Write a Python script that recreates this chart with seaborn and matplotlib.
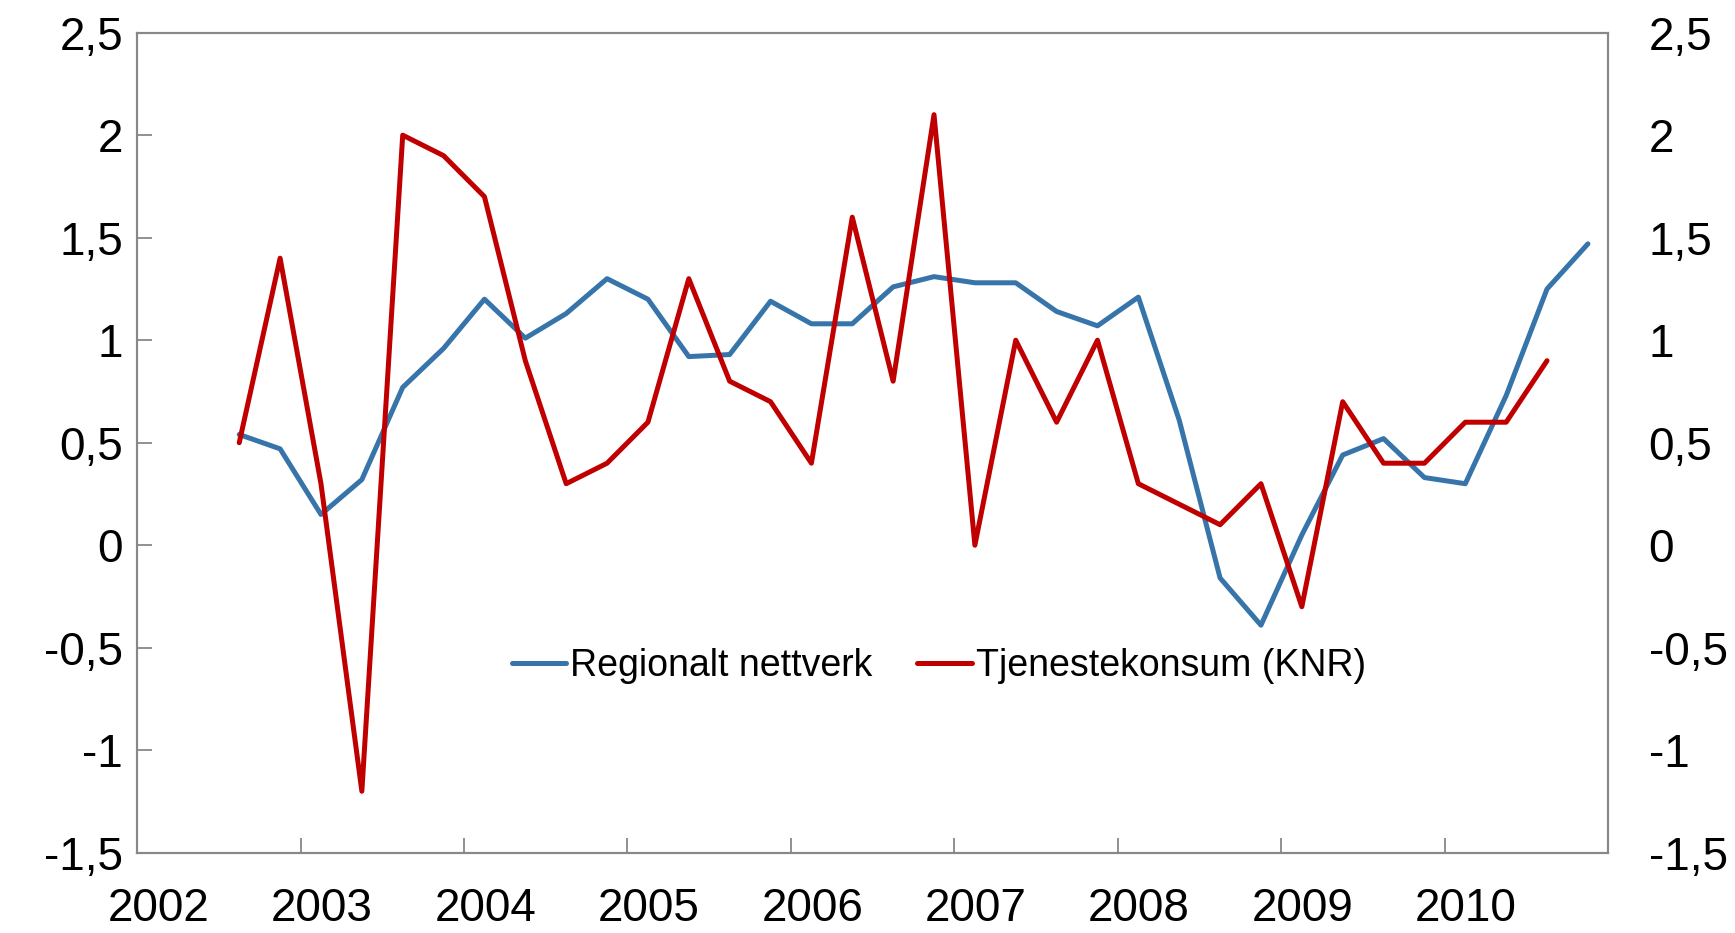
import matplotlib
matplotlib.use('Agg')
import matplotlib.pyplot as plt
import seaborn as sns
import pandas as pd

quarters = ['2002Q3', '2002Q4',
            '2003Q1', '2003Q2', '2003Q3', '2003Q4',
            '2004Q1', '2004Q2', '2004Q3', '2004Q4',
            '2005Q1', '2005Q2', '2005Q3', '2005Q4',
            '2006Q1', '2006Q2', '2006Q3', '2006Q4',
            '2007Q1', '2007Q2', '2007Q3', '2007Q4',
            '2008Q1', '2008Q2', '2008Q3', '2008Q4',
            '2009Q1', '2009Q2', '2009Q3', '2009Q4',
            '2010Q1', '2010Q2', '2010Q3', '2010Q4']

regionalt = [0.54, 0.47, 0.15, 0.32, 0.77, 0.96, 1.20, 1.01, 1.13, 1.30,
             1.20, 0.92, 0.93, 1.19, 1.08, 1.08, 1.26, 1.31, 1.28, 1.28,
             1.14, 1.07, 1.21, 0.61, -0.16, -0.39, 0.05, 0.44, 0.52, 0.33,
             0.30, 0.73, 1.25, 1.47]

tjeneste = [0.5, 1.4, 0.3, -1.2, 2.0, 1.9, 1.7, 0.9, 0.3, 0.4,
            0.6, 1.3, 0.8, 0.7, 0.4, 1.6, 0.8, 2.1, 0.0, 1.0,
            0.6, 1.0, 0.3, 0.2, 0.1, 0.3, -0.3, 0.7, 0.4, 0.4,
            0.6, 0.6, 0.9]

years = list(range(2002, 2011))
yticks = [-1.5, -1, -0.5, 0, 0.5, 1, 1.5, 2, 2.5]
ytick_labels = ['-1,5', '-1', '-0,5', '0', '0,5', '1', '1,5', '2', '2,5']

# quarter midpoints as decimal years
def qpos(q):
    return int(q[:4]) + (int(q[-1]) - 0.5) / 4

df = pd.DataFrame({'x': [qpos(q) for q in quarters], 'Regionalt nettverk': regionalt})
df2 = pd.DataFrame({'x': [qpos(q) for q in quarters[:len(tjeneste)]],
                    'Tjenestekonsum (KNR)': tjeneste})

sns.set_style('white')
plt.rcParams['font.family'] = ['Liberation Sans', 'DejaVu Sans']
plt.rcParams['text.color'] = 'black'
plt.rcParams['xtick.labelcolor'] = 'black'
plt.rcParams['ytick.labelcolor'] = 'black'

fig, ax = plt.subplots(figsize=(17.35, 9.33), dpi=100)
fig.subplots_adjust(left=0.079, right=0.927, top=0.965, bottom=0.086)

sns.lineplot(data=df, x='x', y='Regionalt nettverk', color='#3674aa', linewidth=3.6,
             ax=ax, label='Regionalt nettverk')
sns.lineplot(data=df2, x='x', y='Tjenestekonsum (KNR)', color='#c00000', linewidth=3.6,
             ax=ax, label='Tjenestekonsum (KNR)')

ax.set_xlim(2002, 2011)
ax.set_ylim(-1.5, 2.5)
ax.set_xlabel('')
ax.set_ylabel('')

ax.set_yticks(yticks)
ax.set_yticklabels(ytick_labels)
ax.set_xticks(list(range(2002, 2012)))
ax.set_xticklabels([])
ax.set_xticks([y + 0.13 for y in years], minor=True)
ax.set_xticklabels([str(y) for y in years], minor=True)

ax.tick_params(axis='y', which='major', direction='in', length=11, width=1.3,
               color='#888888', labelsize=33, left=True, right=True,
               labelleft=True, labelright=False, pad=10)
ax.tick_params(axis='x', which='major', direction='in', length=11, width=1.3,
               color='#888888', bottom=True, top=False)
ax.tick_params(axis='x', which='minor', length=0, labelsize=33, pad=25)

# right-hand axis labels, same scale
ax2 = ax.twinx()
ax2.set_ylim(ax.get_ylim())
ax2.set_yticks(yticks)
ax2.set_yticklabels(ytick_labels)
ax2.tick_params(axis='y', direction='in', length=0, labelsize=33, pad=29)

for a in (ax, ax2):
    for s in a.spines.values():
        s.set_color('#888888')
        s.set_linewidth(1.5)

ax.legend(loc='center', bbox_to_anchor=(0.545, 0.228), ncol=2, frameon=False,
          fontsize=27, handlelength=1.45, handletextpad=0.1, columnspacing=1.2)

fig.savefig('out.png', dpi=100)
